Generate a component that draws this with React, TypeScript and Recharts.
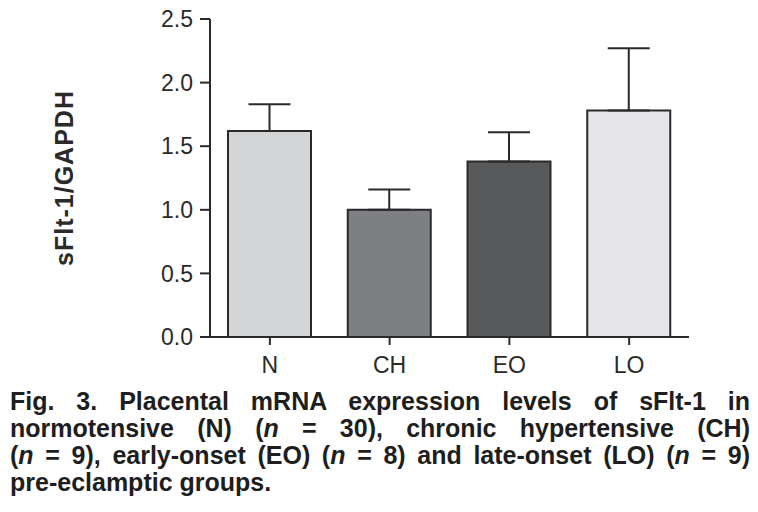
import { BarChart, Bar, XAxis, YAxis, ErrorBar, Cell, Label } from "recharts";

const groups = ["N", "CH", "EO", "LO"];
const means = [1.62, 1.0, 1.38, 1.78];
const sems = [0.21, 0.16, 0.23, 0.49];
const fills = ["#d4d5d7", "#7e7f83", "#58595b", "#e6e6e8"];
const yTicks = [0, 0.5, 1.0, 1.5, 2.0, 2.5];

const data = groups.map((name, i) => ({
  name,
  value: means[i],
  err: [0, sems[i]],
}));

const INK = "#2a2a2a";
const FONT = '"Liberation Sans", Arial, Helvetica, sans-serif';
const CAPTION_FONT = '"Liberation Sans Narrow", "Arial Narrow", "Liberation Sans", sans-serif';

const justified = { textAlign: "justify" as const, textAlignLast: "justify" as const };

export default function App() {
  return (
    <div style={{ position: "absolute", left: 0, top: 0, width: 758, height: 512, background: "#fff" }}>
      <BarChart
        width={758}
        height={390}
        data={data}
        margin={{ top: 19, right: 69, left: 0, bottom: 13 }}
        barCategoryGap={0}
      >
        <YAxis
          width={210}
          domain={[0, 2.5]}
          ticks={yTicks}
          tickFormatter={(v: number) => v.toFixed(1)}
          tick={{ fill: INK, fontSize: 23, fontFamily: FONT }}
          tickSize={10}
          tickMargin={7}
          axisLine={{ stroke: INK, strokeWidth: 2 }}
          tickLine={{ stroke: INK, strokeWidth: 2 }}
          allowDataOverflow
        >
          <Label
            value="sFlt-1/GAPDH"
            angle={-90}
            position="center"
            dx={-41}
            style={{ fill: INK, fontSize: 25, fontWeight: 700, fontFamily: FONT, letterSpacing: 1 }}
          />
        </YAxis>
        <XAxis
          dataKey="name"
          height={40}
          tick={{ fill: INK, fontSize: 23, fontFamily: FONT }}
          tickSize={8}
          tickMargin={12}
          axisLine={{ stroke: INK, strokeWidth: 2 }}
          tickLine={{ stroke: INK, strokeWidth: 2 }}
        />
        <Bar dataKey="value" barSize={83} stroke={INK} strokeWidth={2} isAnimationActive={false}>
          {data.map((d, i) => (
            <Cell key={d.name} fill={fills[i]} />
          ))}
          <ErrorBar dataKey="err" direction="y" width={21} stroke={INK} strokeWidth={2} />
        </Bar>
      </BarChart>
      <div
        style={{
          position: "absolute",
          left: 10,
          top: 388,
          width: 740,
          fontFamily: CAPTION_FONT,
          fontWeight: 700,
          fontSize: 25,
          lineHeight: "27px",
          color: "#1e1e1e",
        }}
      >
        <div style={justified}>Fig. 3. Placental mRNA expression levels of sFlt-1 in</div>
        <div style={justified}>
          normotensive (N) (<i>n</i> = 30), chronic hypertensive (CH)
        </div>
        <div style={justified}>
          (<i>n</i> = 9), early-onset (EO) (<i>n</i> = 8) and late-onset (LO) (<i>n</i> = 9)
        </div>
        <div>pre-eclamptic groups.</div>
      </div>
    </div>
  );
}
